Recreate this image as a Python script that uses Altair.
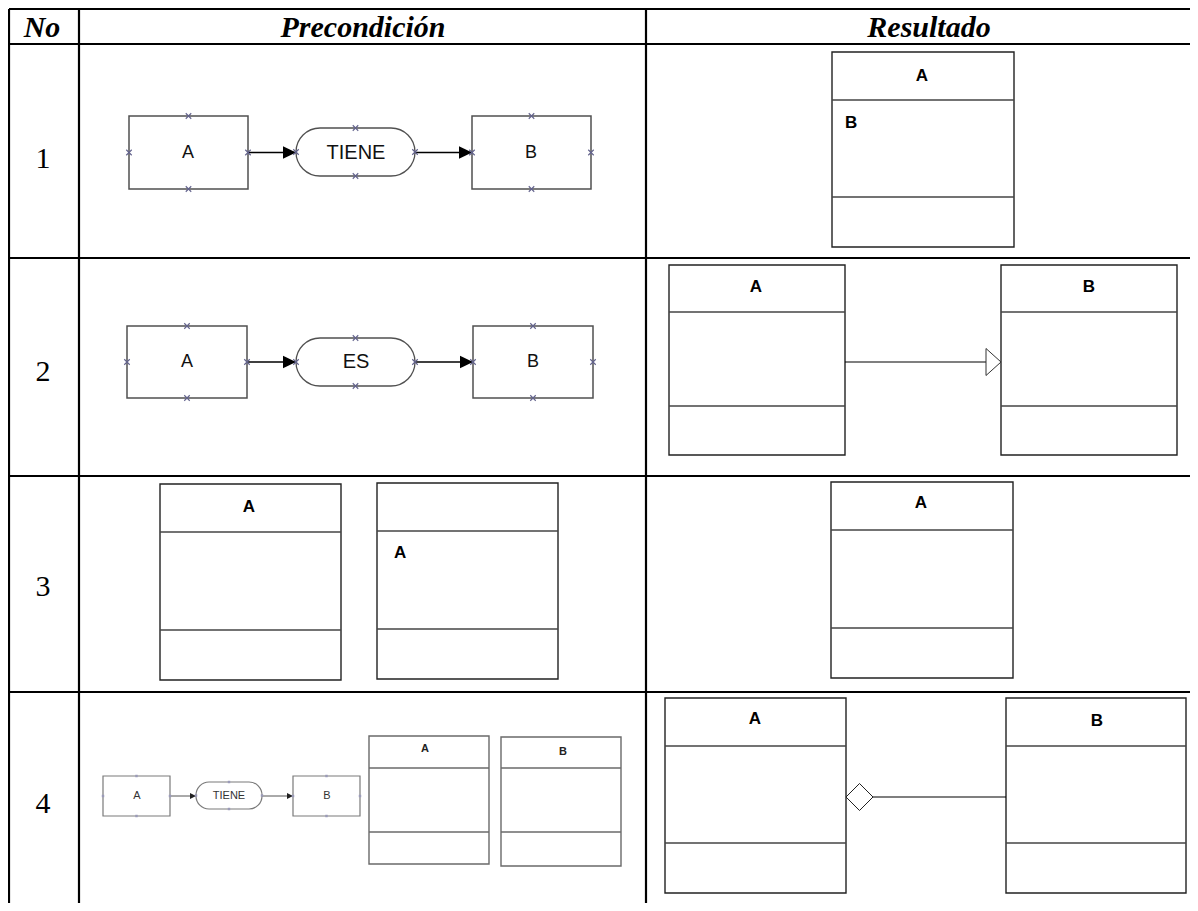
import altair as alt
import pandas as pd

# ---------------- data (pixel positions) ----------------
# table grid
grid_h_y = [9, 44, 258, 476, 692]
grid_v_x = [9, 79, 646]
grid_right = 1198
grid_bottom = 911

header_text = ["No", "Precondición", "Resultado"]
header_x = [42, 363, 929]
header_y = [37, 37, 37]

row_text = ["1", "2", "3", "4"]
row_x = [43, 43, 43, 43]
row_y = [168, 381, 596, 813]

# entity boxes of the precondition diagrams (rows 1-2)
ent_x1 = [129, 472, 127, 473]
ent_x2 = [248, 591, 247, 593]
ent_y1 = [116, 116, 326, 326]
ent_y2 = [189, 189, 398, 398]

# relation pills (rows 1-2)
pill_x1 = [296, 296]
pill_x2 = [415, 415]
pill_y1 = [128, 338]
pill_y2 = [176, 386]

ent_label_text = ["A", "B", "A", "B"]
ent_label_x = [188, 531, 187, 533]
ent_label_y = [153, 153, 362, 362]

rel_label_text = ["TIENE", "ES"]
rel_label_x = [356, 356]
rel_label_y = [153, 362]

arrow_x1 = [248, 415, 247, 415]
arrow_x2 = [296, 472, 296, 473]
arrow_y = [152.5, 152.5, 362, 362]

# small diagram of row 4
mini_ent_x1 = [103, 293]
mini_ent_x2 = [170, 360]
mini_ent_y1 = [776, 776]
mini_ent_y2 = [816, 816]
mini_pill_x1 = [196]
mini_pill_x2 = [262]
mini_pill_y1 = [782]
mini_pill_y2 = [809]
mini_label_text = ["A", "TIENE", "B"]
mini_label_x = [137, 229, 327]
mini_label_y = [796, 796, 796]
mini_arrow_x1 = [170, 262]
mini_arrow_x2 = [196, 293]
mini_arrow_y = [796, 796]

# UML class boxes
class_x1 = [832, 669, 1001, 160, 377, 831, 665, 1006]
class_x2 = [1014, 845, 1177, 341, 558, 1013, 846, 1186]
class_y1 = [52, 265, 265, 484, 483, 482, 698, 698]
class_y2 = [247, 455, 455, 680, 679, 678, 893, 893]
class_d1 = [100, 312, 312, 532, 531, 530, 746, 746]
class_d2 = [197, 406, 406, 630, 629, 628, 843, 843]

mini_class_x1 = [369, 501]
mini_class_x2 = [489, 621]
mini_class_y1 = [736, 737]
mini_class_y2 = [864, 866]
mini_class_d1 = [768, 768]
mini_class_d2 = [832, 832]

class_name_text = ["A", "A", "B", "A", "A", "A", "B"]
class_name_x = [922, 756, 1089, 249, 921, 755, 1097]
class_name_y = [76, 287, 287, 507, 503, 719, 721]

mini_class_name_text = ["A", "B"]
mini_class_name_x = [425, 563]
mini_class_name_y = [749, 752]

attr_text = ["B", "A"]
attr_x = [845, 394]
attr_y = [123, 553]

# generalization (row 2 result) and aggregation (row 4 result)
gen_line_x1 = [845]
gen_line_x2 = [986]
gen_y = [362]
gen_tip_x = [1001]

agg_tip_x = [846]
agg_line_x1 = [873]
agg_line_x2 = [1006]
agg_y = [797]

# ---------------- chart ----------------
XS = alt.Scale(domain=[8, 1190], nice=False, zero=False)
YS = alt.Scale(domain=[8, 903], nice=False, zero=False, reverse=True)


def X(f="x"):
    return alt.X(f"{f}:Q", scale=XS, axis=None)


def Y(f="y"):
    return alt.Y(f"{f}:Q", scale=YS, axis=None)


layers = []

# table grid
grid = pd.DataFrame(
    [{"x": grid_v_x[0], "x2": grid_right, "y": y, "y2": y} for y in grid_h_y]
    + [{"x": x, "x2": x, "y": grid_h_y[0], "y2": grid_bottom} for x in grid_v_x]
)
layers.append(alt.Chart(grid).mark_rule(color="black", strokeWidth=2.2).encode(
    x=X(), x2="x2:Q", y=Y(), y2="y2:Q"))

# headers
hdr = pd.DataFrame({"t": header_text, "x": header_x, "y": header_y})
layers.append(alt.Chart(hdr).mark_text(font="Liberation Serif", fontSize=30, fontWeight="bold",
                                       fontStyle="italic", baseline="alphabetic", color="black").encode(
    x=X(), y=Y(), text="t:N"))

rows = pd.DataFrame({"t": row_text, "x": row_x, "y": row_y})
layers.append(alt.Chart(rows).mark_text(font="Liberation Serif", fontSize=30,
                                        baseline="alphabetic", color="black").encode(
    x=X(), y=Y(), text="t:N"))

# entity boxes and pills
ent = pd.DataFrame({"x": ent_x1, "x2": ent_x2, "y": ent_y1, "y2": ent_y2})
layers.append(alt.Chart(ent).mark_rect(fill="white", stroke="#505050", strokeWidth=1.5).encode(
    x=X(), x2="x2:Q", y=Y(), y2="y2:Q"))
pills = pd.DataFrame({"x": pill_x1, "x2": pill_x2, "y": pill_y1, "y2": pill_y2})
layers.append(alt.Chart(pills).mark_rect(fill="white", stroke="#505050", strokeWidth=1.3,
                                         cornerRadius=24).encode(
    x=X(), x2="x2:Q", y=Y(), y2="y2:Q"))

arrows = pd.DataFrame({"x": arrow_x1, "x2": arrow_x2, "y": arrow_y})
layers.append(alt.Chart(arrows).mark_rule(color="black", strokeWidth=1.3).encode(
    x=X(), x2="x2:Q", y=Y()))
heads = pd.DataFrame({"x": arrow_x2, "y": arrow_y})
layers.append(alt.Chart(heads).mark_point(shape="M0,0L-2,-0.95L-2,0.95Z", filled=True, size=169,
                                          color="black", opacity=1).encode(x=X(), y=Y()))

# connection markers (midpoints of box edges)
mk = []
for x1, x2, y1, y2 in list(zip(ent_x1, ent_x2, ent_y1, ent_y2)) + list(zip(pill_x1, pill_x2, pill_y1, pill_y2)):
    mk += [{"x": (x1 + x2) / 2, "y": y1}, {"x": (x1 + x2) / 2, "y": y2},
           {"x": x1, "y": (y1 + y2) / 2}, {"x": x2, "y": (y1 + y2) / 2}]
layers.append(alt.Chart(pd.DataFrame(mk)).mark_point(shape="M-1,-1L1,1M-1,1L1,-1", filled=False,
                                                     size=30, strokeWidth=1.1, color="#62628c",
                                                     opacity=1).encode(x=X(), y=Y()))

ent_lab = pd.DataFrame({"t": ent_label_text, "x": ent_label_x, "y": ent_label_y})
layers.append(alt.Chart(ent_lab).mark_text(font="Liberation Sans", fontSize=18, color="#111").encode(
    x=X(), y=Y(), text="t:N"))
rel_lab = pd.DataFrame({"t": rel_label_text, "x": rel_label_x, "y": rel_label_y})
layers.append(alt.Chart(rel_lab).mark_text(font="Liberation Sans", fontSize=20, color="#111").encode(
    x=X(), y=Y(), text="t:N"))

# row 4 mini diagram
m_ent = pd.DataFrame({"x": mini_ent_x1, "x2": mini_ent_x2, "y": mini_ent_y1, "y2": mini_ent_y2})
layers.append(alt.Chart(m_ent).mark_rect(fill="white", stroke="#7a7a7a", strokeWidth=1.2).encode(
    x=X(), x2="x2:Q", y=Y(), y2="y2:Q"))
m_pill = pd.DataFrame({"x": mini_pill_x1, "x2": mini_pill_x2, "y": mini_pill_y1, "y2": mini_pill_y2})
layers.append(alt.Chart(m_pill).mark_rect(fill="white", stroke="#7a7a7a", strokeWidth=1.2,
                                          cornerRadius=13).encode(
    x=X(), x2="x2:Q", y=Y(), y2="y2:Q"))
m_arr = pd.DataFrame({"x": mini_arrow_x1, "x2": mini_arrow_x2, "y": mini_arrow_y})
layers.append(alt.Chart(m_arr).mark_rule(color="#555", strokeWidth=1).encode(x=X(), x2="x2:Q", y=Y()))
m_heads = pd.DataFrame({"x": mini_arrow_x2, "y": mini_arrow_y})
layers.append(alt.Chart(m_heads).mark_point(shape="M0,0L-2,-1L-2,1Z", filled=True, size=36,
                                            color="#222", opacity=1).encode(x=X(), y=Y()))
mmk = []
for x1, x2, y1, y2 in list(zip(mini_ent_x1, mini_ent_x2, mini_ent_y1, mini_ent_y2)) + list(
        zip(mini_pill_x1, mini_pill_x2, mini_pill_y1, mini_pill_y2)):
    mmk += [{"x": (x1 + x2) / 2, "y": y1}, {"x": (x1 + x2) / 2, "y": y2},
            {"x": x1, "y": (y1 + y2) / 2}, {"x": x2, "y": (y1 + y2) / 2}]
layers.append(alt.Chart(pd.DataFrame(mmk)).mark_point(shape="square", filled=True, size=6,
                                                      color="#9a9ab8", opacity=1).encode(x=X(), y=Y()))
m_lab = pd.DataFrame({"t": mini_label_text, "x": mini_label_x, "y": mini_label_y})
layers.append(alt.Chart(m_lab).mark_text(font="Liberation Sans", fontSize=11, color="#333").encode(
    x=X(), y=Y(), text="t:N"))

# UML class boxes
cls = pd.DataFrame({"x": class_x1, "x2": class_x2, "y": class_y1, "y2": class_y2})
layers.append(alt.Chart(cls).mark_rect(fill="white", stroke="#222", strokeWidth=1.4).encode(
    x=X(), x2="x2:Q", y=Y(), y2="y2:Q"))
divs = pd.DataFrame({"x": class_x1 * 2, "x2": class_x2 * 2, "y": class_d1 + class_d2})
layers.append(alt.Chart(divs).mark_rule(color="#444", strokeWidth=1.5).encode(
    x=X(), x2="x2:Q", y=Y()))

m_cls = pd.DataFrame({"x": mini_class_x1, "x2": mini_class_x2, "y": mini_class_y1, "y2": mini_class_y2})
layers.append(alt.Chart(m_cls).mark_rect(fill="white", stroke="#6a6a6a", strokeWidth=1.4).encode(
    x=X(), x2="x2:Q", y=Y(), y2="y2:Q"))
m_divs = pd.DataFrame({"x": mini_class_x1 * 2, "x2": mini_class_x2 * 2,
                       "y": mini_class_d1 + mini_class_d2})
layers.append(alt.Chart(m_divs).mark_rule(color="#6a6a6a", strokeWidth=1.4).encode(
    x=X(), x2="x2:Q", y=Y()))

cn = pd.DataFrame({"t": class_name_text, "x": class_name_x, "y": class_name_y})
layers.append(alt.Chart(cn).mark_text(font="Liberation Sans", fontSize=17, fontWeight="bold",
                                      color="black").encode(x=X(), y=Y(), text="t:N"))
mcn = pd.DataFrame({"t": mini_class_name_text, "x": mini_class_name_x, "y": mini_class_name_y})
layers.append(alt.Chart(mcn).mark_text(font="Liberation Sans", fontSize=11, fontWeight="bold",
                                       color="#222").encode(x=X(), y=Y(), text="t:N"))
at = pd.DataFrame({"t": attr_text, "x": attr_x, "y": attr_y})
layers.append(alt.Chart(at).mark_text(font="Liberation Sans", fontSize=17, fontWeight="bold",
                                      align="left", color="black").encode(x=X(), y=Y(), text="t:N"))

# generalization
gl = pd.DataFrame({"x": gen_line_x1, "x2": gen_line_x2, "y": gen_y})
layers.append(alt.Chart(gl).mark_rule(color="black", strokeWidth=1.2).encode(x=X(), x2="x2:Q", y=Y()))
gt = pd.DataFrame({"x": gen_tip_x, "y": gen_y})
layers.append(alt.Chart(gt).mark_point(shape="M0,0L-1,-0.9L-1,0.9Z", filled=True, size=900,
                                       fill="white", stroke="#333", strokeWidth=1,
                                       opacity=1).encode(x=X(), y=Y()))

# aggregation
al = pd.DataFrame({"x": agg_line_x1, "x2": agg_line_x2, "y": agg_y})
layers.append(alt.Chart(al).mark_rule(color="black", strokeWidth=1.2).encode(x=X(), x2="x2:Q", y=Y()))
ad = pd.DataFrame({"x": agg_tip_x, "y": agg_y})
layers.append(alt.Chart(ad).mark_point(shape="M0,0L1,-1L2,0L1,1Z", filled=True, size=729,
                                       fill="white", stroke="#222", strokeWidth=1,
                                       opacity=1).encode(x=X(), y=Y()))

chart = alt.layer(*layers).properties(
    width=1182, height=895, padding=0, autosize="none", background="white"
).configure_view(strokeWidth=0)

chart.save("out.html", embed_options={"renderer": "svg", "actions": False})
